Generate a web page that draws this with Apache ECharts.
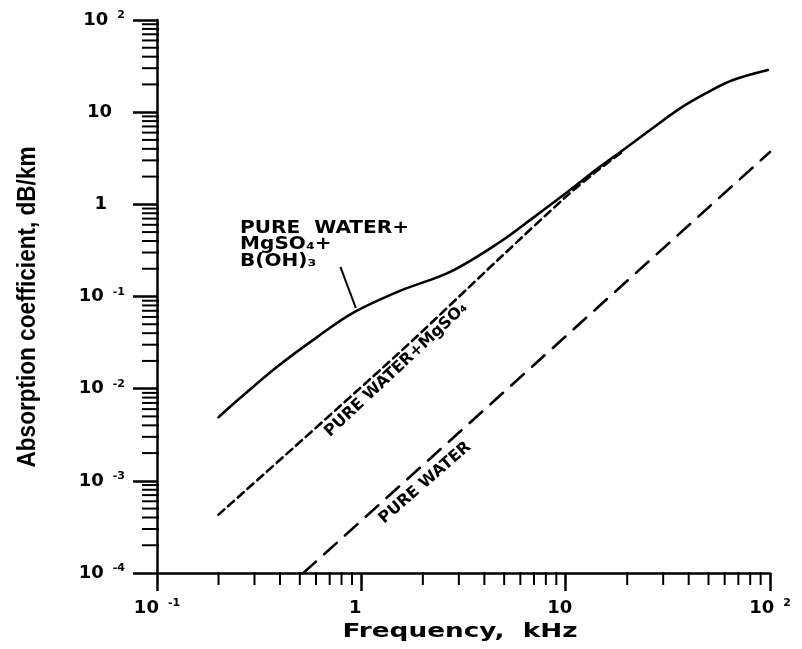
<!DOCTYPE html>
<html>
<head>
<meta charset="utf-8">
<script src="https://cdn.jsdelivr.net/npm/echarts@6/dist/echarts.min.js"></script>
<style>
  html, body { margin: 0; padding: 0; background: #ffffff; }
  #chart { width: 802px; height: 649px; }
</style>
</head>
<body>
<div id="chart"></div>
<script>
// Sound absorption in sea water: frequency in kHz, absorption in dB/km.
const freqTotal  = [0.2, 0.255, 0.386, 0.61, 0.91, 1.545, 2.72, 4.77, 6.92, 10.2, 14.7, 19.1, 25.9, 36.3, 49.2, 65.9, 97.6];
const alphaTotal = [0.0049, 0.0079, 0.0172, 0.0365, 0.0664, 0.115, 0.185, 0.39, 0.713, 1.36, 2.55, 3.89, 6.41, 11.0, 16.3, 22.3, 28.7];

const freqMgSO4  = [0.2, 1.5, 4.77, 10.2, 14.2, 19.1];
const alphaMgSO4 = [0.00043, 0.0235, 0.262, 1.25, 2.3, 3.75];

const freqPure  = [0.52, 100];
const alphaPure = [0.0001, 3.7];

// Pointer from the three-line caption down to the total curve
const leaderFreq  = [0.79, 0.94];
const leaderAlpha = [0.21, 0.075];

// Axis decades and minor-tick mantissas
const xDecades = [0.1, 1, 10, 100];
const yDecades = [1e-4, 1e-3, 1e-2, 1e-1, 1, 10, 100];
const minorMantissas = [2, 3, 4, 5, 6, 7, 8, 9];

const xMinorTicks = [];
for (let i = 0; i < xDecades.length - 1; i++) {
  minorMantissas.forEach(m => xMinorTicks.push(m * xDecades[i]));
}
const yMinorTicks = [];
for (let i = 0; i < yDecades.length - 1; i++) {
  minorMantissas.forEach(m => yMinorTicks.push(m * yDecades[i]));
}

const INK = '#000000';
const LABEL_FONT = 'DejaVu Sans';

function pairs(xs, ys) { return xs.map((x, i) => [x, ys[i]]); }

function decadeLabel(v, axis) {
  const e = Math.round(Math.log10(v));
  if (e === 0) return axis === 'y' ? '{b|1}{p1|}' : '{b|1}{px|}';
  if (e === 1) return axis === 'y' ? '{b|10}{p10|}' : '{b|10}{px|}';
  return '{b|10}{s|' + (e < 0 ? '-' : '') + Math.abs(e) + '}';
}

const labelRich = {
  b:   { fontFamily: LABEL_FONT, fontWeight: 'bold', fontSize: 18, color: INK, lineHeight: 20 },
  s:   { fontFamily: LABEL_FONT, fontWeight: 'bold', fontSize: 11, color: INK, verticalAlign: 'top', padding: [0, 0, 0, 9] },
  p1:  { width: 18 },
  p10: { width: 13 },
  px:  { width: 12 }
};

const chart = echarts.init(document.getElementById('chart'), null, { renderer: 'canvas' });

function tickSeries(name, values, axis) {
  return {
    name: name,
    type: 'custom',
    clip: false,
    silent: true,
    z: 5,
    data: values.map(v => axis === 'x' ? [v, 1e-4] : [0.1, v]),
    renderItem: function (params, api) {
      const p = api.coord([api.value(0), api.value(1)]);
      const shape = axis === 'x'
        ? { x1: p[0], y1: p[1] - 1, x2: p[0], y2: p[1] + 12 }
        : { x1: p[0] - 15, y1: p[1], x2: p[0] + 2, y2: p[1] };
      return { type: 'line', shape: shape, style: { stroke: INK, lineWidth: 2 } };
    }
  };
}

chart.setOption({
  backgroundColor: '#ffffff',
  animation: false,
  grid: { left: 157, right: 32, top: 20, bottom: 76 },
  xAxis: {
    type: 'log',
    logBase: 10,
    min: 0.1,
    max: 100,
    axisLine: { show: true, onZero: false, lineStyle: { color: INK, width: 2.5 } },
    axisTick: { show: true, inside: false, length: 18, lineStyle: { color: INK, width: 2.5 } },
    axisLabel: {
      margin: 25,
      formatter: v => decadeLabel(v, 'x'),
      rich: labelRich
    },
    splitLine: { show: false },
    minorTick: { show: false },
    minorSplitLine: { show: false }
  },
  yAxis: {
    type: 'log',
    logBase: 10,
    min: 1e-4,
    max: 100,
    axisLine: { show: true, onZero: false, lineStyle: { color: INK, width: 2.5 } },
    axisTick: { show: true, inside: false, length: 24, lineStyle: { color: INK, width: 2.5 } },
    axisLabel: {
      margin: 32,
      formatter: v => decadeLabel(v, 'y'),
      rich: labelRich
    },
    splitLine: { show: false },
    minorTick: { show: false },
    minorSplitLine: { show: false }
  },
  series: [
    {
      name: 'PURE WATER+MgSO4+B(OH)3',
      type: 'line',
      data: pairs(freqTotal, alphaTotal),
      smooth: 0.35,
      showSymbol: false,
      silent: true,
      lineStyle: { color: INK, width: 2.6, cap: 'round', join: 'round' },
      z: 4
    },
    {
      name: 'PURE WATER+MgSO4',
      type: 'line',
      data: pairs(freqMgSO4, alphaMgSO4),
      smooth: 0.3,
      showSymbol: false,
      silent: true,
      lineStyle: { color: INK, width: 2.6, type: [8, 5], cap: 'round' },
      z: 3
    },
    {
      name: 'PURE WATER',
      type: 'line',
      data: pairs(freqPure, alphaPure),
      showSymbol: false,
      silent: true,
      lineStyle: { color: INK, width: 2.6, type: [17, 11], cap: 'round' },
      z: 3
    },
    {
      name: 'leader',
      type: 'line',
      data: pairs(leaderFreq, leaderAlpha),
      showSymbol: false,
      silent: true,
      lineStyle: { color: INK, width: 2 },
      z: 3
    },
    tickSeries('x minor ticks', xMinorTicks, 'x'),
    tickSeries('y minor ticks', yMinorTicks, 'y')
  ]
});

// Text measuring, used to widen the plotter-style lettering
const measureCtx = document.createElement('canvas').getContext('2d');
function textWidth(text, font) {
  measureCtx.font = font;
  return measureCtx.measureText(text).width;
}

function toPx(f, a) { return chart.convertToPixel({ gridIndex: 0 }, [f, a]); }

const captionFont = 'bold 17px "DejaVu Sans"';
const captionAt = toPx(0.255, 0.678);
const captionLines = ['PURE  WATER+', 'MgSO\u2084+', 'B(OH)\u2083'];

const slopeLabelFont = 'bold 16px "DejaVu Sans"';
const mgLabelAt = toPx(1.48, 0.016);
const pureLabelAt = toPx(2.05, 0.00095);

const xNameFont = 'bold 19px "DejaVu Sans"';
const xNameText = 'Frequency,  kHz';
const xNameScale = 235 / textWidth(xNameText, xNameFont);

const yNameFont = 'bold 25px "Liberation Sans"';
const yNameText = 'Absorption coefficient, dB/km';
const yNameScale = 321 / textWidth(yNameText, yNameFont);

const graphics = [];
captionLines.forEach((t, i) => {
  graphics.push({
    type: 'text',
    x: captionAt[0],
    y: captionAt[1] + i * 16.5,
    scaleX: 1.18,
    silent: true,
    style: { text: t, font: captionFont, fill: INK, textAlign: 'left', textVerticalAlign: 'top' }
  });
});
graphics.push({
  type: 'text',
  x: mgLabelAt[0], y: mgLabelAt[1],
  rotation: 43 * Math.PI / 180,
  silent: true,
  style: { text: 'PURE WATER+MgSO\u2084', font: slopeLabelFont, fill: INK, textAlign: 'center', textVerticalAlign: 'middle' }
});
graphics.push({
  type: 'text',
  x: pureLabelAt[0], y: pureLabelAt[1],
  rotation: 41 * Math.PI / 180,
  silent: true,
  style: { text: 'PURE WATER', font: slopeLabelFont, fill: INK, textAlign: 'center', textVerticalAlign: 'middle' }
});
graphics.push({
  type: 'text',
  x: 460, y: 632,
  scaleX: xNameScale,
  silent: true,
  style: { text: xNameText, font: xNameFont, fill: INK, textAlign: 'center', textVerticalAlign: 'middle' }
});
graphics.push({
  type: 'text',
  x: 28, y: 307,
  rotation: Math.PI / 2,
  scaleX: yNameScale,
  silent: true,
  style: { text: yNameText, font: yNameFont, fill: INK, textAlign: 'center', textVerticalAlign: 'middle' }
});

chart.setOption({ graphic: graphics });
</script>
</body>
</html>
